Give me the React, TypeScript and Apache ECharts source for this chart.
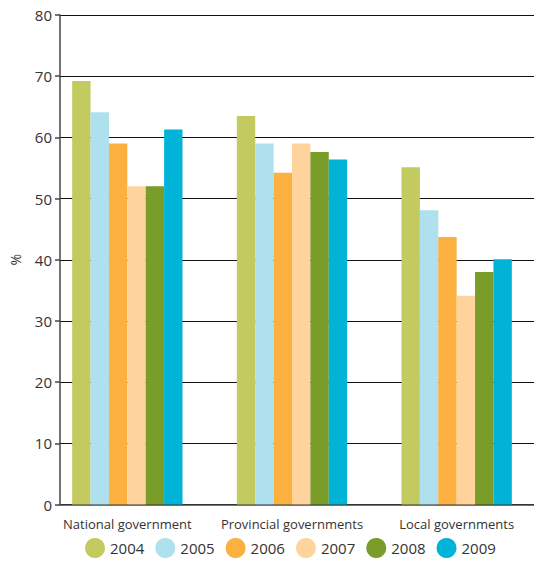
import React, { useEffect, useRef } from "react";
import * as echarts from "echarts";

// Tier of government shown along the x axis
const categories = ["National government", "Provincial governments", "Local governments"];
const years = ["2004", "2005", "2006", "2007", "2008", "2009"];

// Percentage per year, in category order
const v2004 = [69.2, 63.5, 55.1];
const v2005 = [64.1, 59.0, 48.1];
const v2006 = [59.0, 54.2, 43.7];
const v2007 = [52.0, 59.0, 34.1];
const v2008 = [52.0, 57.6, 38.0];
const v2009 = [61.3, 56.4, 40.1];

const yTicks = [0, 10, 20, 30, 40, 50, 60, 70, 80];

const yearColors = ["#c3ca60", "#aee0ee", "#fbb040", "#fed49c", "#7a9c29", "#00b3d7"];

const FONT = "'Open Sans', 'DejaVu Sans', sans-serif";
const TEXT = "#333333";

// The last category band runs past the visible right edge, so the canvas is
// drawn wider than the frame and clipped.
const VIEW_W = 534;
const CANVAS_W = 562;
const H = 573;

export default function App() {
  const ref = useRef<HTMLDivElement>(null);

  useEffect(() => {
    if (!ref.current) return;
    const chart = echarts.init(ref.current, undefined, { renderer: "svg" });
    const values = [v2004, v2005, v2006, v2007, v2008, v2009];

    chart.setOption({
      animation: false,
      textStyle: { fontFamily: FONT },
      legend: {
        data: years.map((y) => ({ name: y, icon: "circle" })),
        top: 533,
        left: 80,
        itemWidth: 20,
        itemHeight: 20,
        itemGap: 11,
        textStyle: { fontSize: 15, color: TEXT, fontFamily: FONT },
      },
      grid: [
        // frame with value axis, gridlines and the zero line
        { left: 54, right: CANVAS_W - VIEW_W, top: 15, bottom: 68.5 },
        // bars and category labels
        { left: 45, width: 494, top: 15, bottom: 68.5 },
      ],
      xAxis: [
        {
          gridIndex: 0,
          type: "value",
          min: 0,
          max: 1,
          axisLine: { show: true, lineStyle: { color: "#444", width: 1.5 } },
          axisTick: { show: false },
          axisLabel: { show: false },
          splitLine: { show: false },
        },
        {
          gridIndex: 1,
          type: "category",
          data: categories,
          axisLine: { show: false },
          axisTick: { show: false },
          axisLabel: { interval: 0, fontSize: 13, color: TEXT, margin: 13, fontFamily: FONT },
        },
      ],
      yAxis: [
        {
          gridIndex: 0,
          type: "value",
          min: yTicks[0],
          max: yTicks[yTicks.length - 1],
          interval: 10,
          name: "%",
          nameLocation: "middle",
          nameRotate: 90,
          nameGap: 38,
          nameTextStyle: { fontSize: 14, color: TEXT, fontFamily: FONT },
          axisLine: { show: true, lineStyle: { color: "#444", width: 1.5 } },
          axisTick: { show: true, length: 5, lineStyle: { color: "#444", width: 1.5 } },
          axisLabel: { fontSize: 15, color: TEXT, margin: 8, fontFamily: FONT },
          splitLine: { show: true, lineStyle: { color: "#111", width: 1.2 } },
        },
        {
          gridIndex: 1,
          type: "value",
          min: yTicks[0],
          max: yTicks[yTicks.length - 1],
          show: false,
          splitLine: { show: false },
        },
      ],
      series: years.map((y, i) => ({
        name: y,
        type: "bar",
        xAxisIndex: 1,
        yAxisIndex: 1,
        data: values[i],
        barGap: "0%",
        barCategoryGap: "33%",
        itemStyle: { color: yearColors[i] },
      })),
    });

    return () => chart.dispose();
  }, []);

  return (
    <div
      style={{
        position: "fixed",
        left: 0,
        top: 0,
        width: VIEW_W,
        height: H,
        overflow: "hidden",
        background: "#fff",
      }}
    >
      <div ref={ref} style={{ width: CANVAS_W, height: H }} />
    </div>
  );
}
